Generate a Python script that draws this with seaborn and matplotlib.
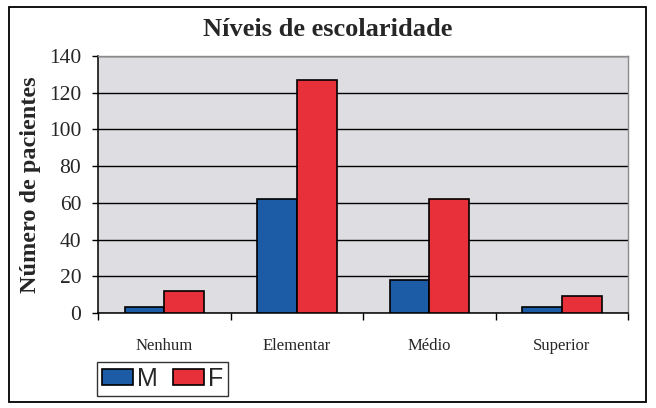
import matplotlib
matplotlib.use("Agg")
import matplotlib.pyplot as plt
from matplotlib.patches import Rectangle
import seaborn as sns
import pandas as pd

categories = ["Nenhum", "Elementar", "Médio", "Superior"]
series_names = ["M", "F"]
values_m = [3, 62, 18, 3]
values_f = [12, 127, 62, 9]
y_ticks = [0, 20, 40, 60, 80, 100, 120, 140]

df = pd.DataFrame({
    "Nível": categories * 2,
    "Sexo": [series_names[0]] * len(categories) + [series_names[1]] * len(categories),
    "Pacientes": values_m + values_f,
})

sns.set_theme(style="white")
plt.rcParams["font.family"] = ["Liberation Serif", "DejaVu Serif"]

W, H = 656, 408
fig = plt.figure(figsize=(W / 100, H / 100), dpi=100)
fig.patch.set_facecolor("white")
ax = fig.add_axes([98 / W, 1 - 313 / H, (628 - 98) / W, (313 - 56) / H])
ax.set_facecolor("#dedee2")

sns.barplot(data=df, x="Nível", y="Pacientes", hue="Sexo", order=categories,
            hue_order=series_names, palette=["#1c5ca6", "#e8303a"],
            saturation=1, width=0.6, edgecolor="black", linewidth=1.2, ax=ax,
            legend=True, zorder=3)

ax.set_ylim(0, 140)
ax.set_xlim(-0.5, 3.5)
ax.set_yticks(y_ticks)
ax.yaxis.grid(True, color="black", linewidth=1.0, zorder=1)
ax.set_axisbelow(True)
ax.tick_params(axis="y", which="major", direction="out", length=4, width=1,
               color="black", labelsize=15.5, pad=8, left=True)
ax.set_xticks(range(len(categories)))
ax.set_xticklabels(categories, fontsize=12)
ax.tick_params(axis="x", which="major", length=0, pad=18)
ax.set_xticks([i - 0.5 for i in range(len(categories) + 1)], minor=True)
ax.tick_params(axis="x", which="minor", direction="out", length=5, width=1,
               color="black", bottom=True)
ax.set_xlabel("")
ax.set_ylabel("Número de pacientes", fontsize=17.5, fontweight="bold", labelpad=6)
for s in ["left", "bottom"]:
    ax.spines[s].set_color("black")
    ax.spines[s].set_linewidth(1.1)
for s in ["top", "right"]:
    ax.spines[s].set_color("#8a8a8a")
    ax.spines[s].set_linewidth(1.0)
    ax.spines[s].set_visible(True)

fig.text(0.5, 1 - 30 / H, "Níveis de escolaridade", ha="center", va="center",
         fontsize=19, fontweight="bold")

handles, labels = ax.get_legend_handles_labels()
ax.get_legend().remove()
leg = fig.legend(handles, labels, loc="upper left",
                 bbox_to_anchor=(97 / W, 1 - 362 / H), borderaxespad=0,
                 ncol=2, frameon=True, fancybox=False, edgecolor="black",
                 prop={"family": "Liberation Sans", "size": 18},
                 handlelength=1.25, handleheight=0.6, handletextpad=0.15,
                 columnspacing=0.6, borderpad=0.2)
leg.get_frame().set_linewidth(1.0)

frame = Rectangle((9 / W, 1 - 402 / H), (646 - 9) / W, (402 - 7) / H,
                  transform=fig.transFigure, fill=False, edgecolor="black",
                  linewidth=1.3)
fig.patches.append(frame)

fig.savefig("out.png", dpi=100)
